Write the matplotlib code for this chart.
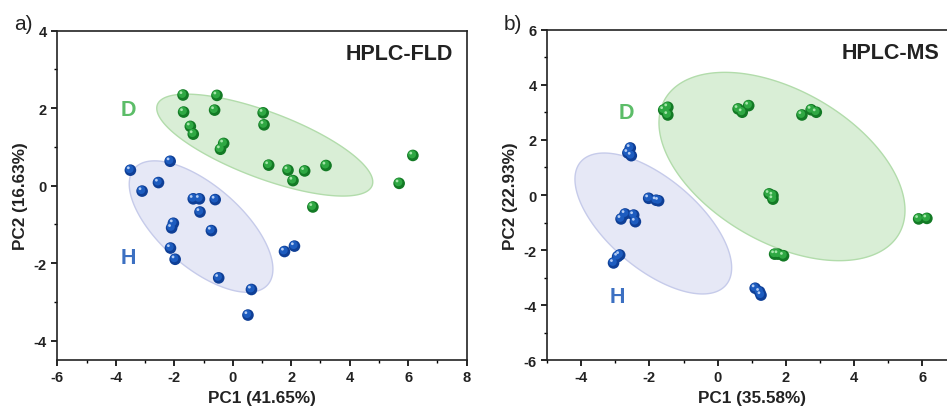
import numpy as np
import matplotlib
matplotlib.use("Agg")
import matplotlib.pyplot as plt
from matplotlib.transforms import offset_copy

plt.rcParams['font.family'] = ['Liberation Sans', 'DejaVu Sans']
plt.rcParams['axes.unicode_minus'] = False

# ---------------- data: panel a (HPLC-FLD) ----------------
a_D_x = [-1.70, -0.54, -1.68, -0.62, 1.04, 1.07, -1.45, -1.35, -0.31, -0.42,
         1.23, 1.89, 2.46, 2.06, 3.19, 6.16, 5.69, 2.74]
a_D_y = [2.34, 2.33, 1.90, 1.95, 1.88, 1.57, 1.53, 1.33, 1.09, 0.94,
         0.53, 0.40, 0.38, 0.13, 0.52, 0.78, 0.06, -0.55]
a_H_x = [-3.50, -2.14, -3.10, -2.54, -1.35, -1.14, -0.60, -1.12, -2.03, -2.09,
         -0.73, -2.13, -1.97, 1.77, 2.11, -0.48, 0.64, 0.52]
a_H_y = [0.40, 0.63, -0.14, 0.08, -0.34, -0.34, -0.36, -0.68, -0.97, -1.09,
         -1.16, -1.61, -1.90, -1.70, -1.56, -2.38, -2.68, -3.34]

# ---------------- data: panel b (HPLC-MS) ----------------
b_D_x = [-1.58, -1.46, -1.46, 0.60, 0.72, 0.91, 2.47, 2.74, 2.89,
         1.51, 1.62, 1.62, 1.67, 1.77, 1.93, 5.89, 6.13]
b_D_y = [3.09, 3.19, 2.91, 3.13, 3.01, 3.25, 2.91, 3.10, 3.01,
         0.04, -0.02, -0.15, -2.15, -2.15, -2.21, -0.87, -0.85]
b_H_x = [-2.56, -2.63, -2.53, -2.02, -1.80, -1.73, -2.83, -2.71, -2.46, -2.41,
         -3.05, -2.93, -2.87, 1.10, 1.23, 1.27]
b_H_y = [1.71, 1.53, 1.43, -0.12, -0.19, -0.21, -0.87, -0.69, -0.73, -0.97,
         -2.47, -2.24, -2.18, -3.39, -3.52, -3.64]

# confidence ellipses: centre, semi-axis vector 1, semi-axis vector 2 (data units)
a_D_ell = [(1.095, 1.047), (3.672, -1.043), (0.398, 0.801)]
a_H_ell = [(-1.083, -1.056), (2.281, -1.499), (0.912, 0.794)]
b_D_ell = [(1.885, 1.036), (3.429, -2.447), (1.109, 2.395)]
b_H_ell = [(-1.885, -1.036), (2.131, -2.235), (0.853, 1.253)]

a_xlabel, a_ylabel = 'PC1 (41.65%)', 'PC2 (16.63%)'
b_xlabel, b_ylabel = 'PC1 (35.58%)', 'PC2 (22.93%)'
a_title, b_title = 'HPLC-FLD', 'HPLC-MS'
a_xticks = [-6, -4, -2, 0, 2, 4, 6, 8]
a_yticks = [-4, -2, 0, 2, 4]
b_xticks = [-4, -2, 0, 2, 4, 6]
b_yticks = [-6, -4, -2, 0, 2, 4, 6]
a_D_lab, a_H_lab = (-3.57, 1.97), (-3.57, -1.86)
b_D_lab, b_H_lab = (-2.68, 3.0), (-2.95, -3.70)

GREEN = dict(dark='#137a25', mid='#2fa843', light='#a5e6aa',
             fill='#d9eed6', edge='#b2dcab', text='#5cbd68')
BLUE = dict(dark='#0f3f96', mid='#1d5cbf', light='#b5cdf4',
            fill='#e6e8f6', edge='#c6cbea', text='#3c70c2')

fig = plt.figure(figsize=(9.47, 4.10), dpi=100)
axA = fig.add_axes([0.0605, 0.1195, 0.4323, 0.8032])
axB = fig.add_axes([0.5776, 0.1195, 0.4325, 0.8049])


def ellipse(ax, spec, c):
    (cx, cy), u, v = spec
    t = np.linspace(0, 2 * np.pi, 300)
    ex = cx + u[0] * np.cos(t) + v[0] * np.sin(t)
    ey = cy + u[1] * np.cos(t) + v[1] * np.sin(t)
    ax.fill(ex, ey, facecolor=c['fill'], edgecolor=c['edge'], lw=1.0, zorder=1)


def balls(ax, x, y, c):
    ax.scatter(x, y, s=70, color=c['dark'], edgecolors='none', zorder=3)
    tr1 = offset_copy(ax.transData, fig=fig, x=-0.6, y=0.8, units='points')
    ax.scatter(x, y, s=34, color=c['mid'], edgecolors='none', zorder=4,
               transform=tr1)
    tr2 = offset_copy(ax.transData, fig=fig, x=-1.5, y=1.7, units='points')
    ax.scatter(x, y, s=4, color=c['light'], edgecolors='none', zorder=5,
               transform=tr2)


def style(ax, xlim, ylim, xt, yt, xl, yl):
    ax.set_xlim(*xlim)
    ax.set_ylim(*ylim)
    ax.set_xticks(xt)
    ax.set_yticks(yt)
    ax.set_xticks(np.arange(xlim[0], xlim[1] + 0.5, 1), minor=True)
    ax.set_yticks(np.arange(np.ceil(ylim[0]), ylim[1] + 0.5, 1), minor=True)
    ax.tick_params(which='major', direction='out', length=4.5, width=1.2,
                   labelsize=10.5, pad=3)
    ax.tick_params(which='minor', direction='out', length=2.5, width=1.0)
    for lab in ax.get_xticklabels() + ax.get_yticklabels():
        lab.set_fontweight('bold')
        lab.set_color('#222222')
    for sp in ax.spines.values():
        sp.set_linewidth(1.2)
        sp.set_color('#222222')
    ax.set_xlabel(xl, fontsize=12.3, fontweight='bold', color='#222222', labelpad=4)
    ax.set_ylabel(yl, fontsize=12.3, fontweight='bold', color='#222222', labelpad=4)


# panel a
ellipse(axA, a_D_ell, GREEN)
ellipse(axA, a_H_ell, BLUE)
balls(axA, a_D_x, a_D_y, GREEN)
balls(axA, a_H_x, a_H_y, BLUE)
style(axA, (-6, 8), (-4.5, 4), a_xticks, a_yticks, a_xlabel, a_ylabel)
axA.text(0.966, 0.932, a_title, transform=axA.transAxes, ha='right', va='center',
         fontsize=15.5, fontweight='bold', color='#222222')
axA.text(*a_D_lab, 'D', fontsize=15.5, fontweight='bold', color=GREEN['text'],
         ha='center', va='center')
axA.text(*a_H_lab, 'H', fontsize=15.5, fontweight='bold', color=BLUE['text'],
         ha='center', va='center')

# panel b
ellipse(axB, b_D_ell, GREEN)
ellipse(axB, b_H_ell, BLUE)
balls(axB, b_D_x, b_D_y, GREEN)
balls(axB, b_H_x, b_H_y, BLUE)
style(axB, (-5, 7), (-6, 6), b_xticks, b_yticks, b_xlabel, b_ylabel)
axB.text(0.959, 0.932, b_title, transform=axB.transAxes, ha='right', va='center',
         fontsize=15.5, fontweight='bold', color='#222222')
axB.text(*b_D_lab, 'D', fontsize=15.5, fontweight='bold', color=GREEN['text'],
         ha='center', va='center')
axB.text(*b_H_lab, 'H', fontsize=15.5, fontweight='bold', color=BLUE['text'],
         ha='center', va='center')

fig.text(23 / 947, 1 - 25 / 410, 'a)', fontsize=15, ha='center', va='center',
         color='#222222')
fig.text(513 / 947, 1 - 25 / 410, 'b)', fontsize=15, ha='center', va='center',
         color='#222222')

fig.savefig('out.png', dpi=100)
